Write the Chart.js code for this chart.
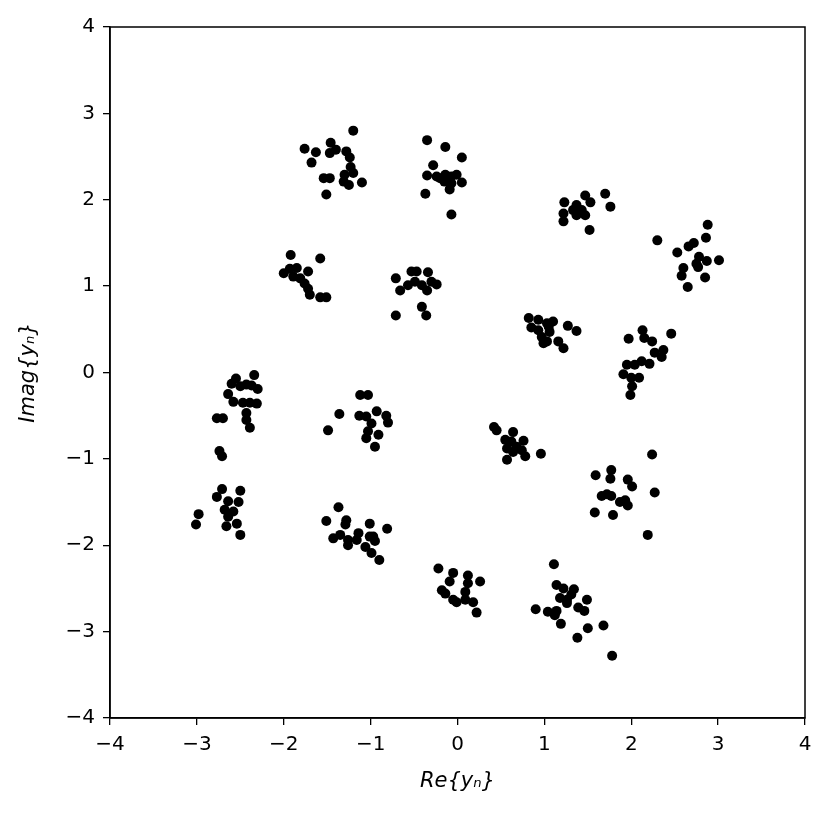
<!DOCTYPE html>
<html>
<head>
<meta charset="utf-8">
<script src="https://cdn.jsdelivr.net/npm/chart.js@4.4.1/dist/chart.umd.min.js"></script>
<style>
  html, body { margin: 0; padding: 0; background: #fff; }
</style>
</head>
<body>
<canvas id="scatter" width="830" height="816"></canvas>
<script>
// received symbols, real and imaginary parts (one line per cluster)
var reVals = [
  -1.20,-1.76,-1.63,-1.46,-1.47,-1.40,-1.28,-1.68,-1.24,-1.23,-1.30,-1.20,-1.31,-1.25,-1.10,-1.54,-1.47,-1.51,
  -0.35,-0.14,0.05,-0.28,-0.35,-0.24,-0.14,-0.07,-0.01,-0.15,-0.07,0.05,-0.09,-0.37,-0.07,-0.20,
  1.70,1.47,1.23,1.53,1.37,1.76,1.33,1.43,1.22,1.37,1.47,1.22,1.52,
  2.88,2.86,2.30,2.72,2.66,2.53,2.78,3.01,2.87,2.75,2.77,2.60,2.58,2.85,2.65,
  -1.92,-1.58,-2.00,-1.93,-1.85,-1.72,-1.89,-1.81,-1.76,-1.72,-1.70,-1.58,-1.51,
  -0.71,-0.53,-0.47,-0.34,-0.66,-0.57,-0.49,-0.41,-0.35,-0.24,-0.30,-0.71,-0.41,-0.36,
  0.82,0.93,1.03,0.85,0.93,0.97,0.99,1.10,1.05,1.06,1.27,1.37,1.03,1.16,1.22,
  2.13,1.97,2.46,2.15,2.24,2.37,2.27,2.35,1.95,2.04,2.12,2.21,1.91,2.00,2.09,2.01,1.99,
  -2.34,-2.55,-2.60,-2.50,-2.43,-2.37,-2.30,-2.64,-2.58,-2.47,-2.39,-2.31,-2.43,-2.43,-2.39,-2.77,-2.70,-2.74,-2.71,
  -1.36,-1.49,-1.12,-1.03,-1.13,-1.05,-1.05,-0.93,-0.82,-0.80,-0.99,-1.03,-0.91,-0.95,
  0.42,0.45,0.64,0.55,0.62,0.76,0.57,0.68,0.74,0.64,0.78,0.57,0.96,
  2.24,1.59,1.77,1.96,1.76,2.01,2.27,1.66,1.72,1.77,1.87,1.93,1.96,1.58,1.79,2.19,
  -2.71,-2.77,-2.50,-2.64,-2.52,-2.68,-2.58,-2.98,-3.01,-2.64,-2.54,-2.66,-2.50,
  -1.37,-1.51,-1.28,-1.29,-1.43,-1.35,-1.26,-1.26,-1.14,-1.16,-1.06,-1.01,-1.01,-0.81,-0.97,-0.95,-0.99,-0.90,
  -0.22,-0.05,0.12,0.26,-0.09,0.12,-0.18,-0.14,0.09,-0.05,-0.01,0.09,0.18,0.22,
  0.90,1.04,1.11,1.14,1.22,1.34,1.18,1.26,1.31,1.49,1.26,1.14,1.12,1.39,1.46,1.19,1.50,1.68,1.38,1.78
];
var imVals = [
  2.80,2.59,2.55,2.66,2.54,2.58,2.56,2.43,2.49,2.38,2.29,2.31,2.21,2.17,2.20,2.25,2.25,2.06,
  2.69,2.61,2.49,2.40,2.28,2.27,2.29,2.27,2.29,2.21,2.19,2.20,2.12,2.07,1.83,2.25,
  2.07,2.05,1.97,1.97,1.94,1.92,1.88,1.88,1.84,1.82,1.82,1.75,1.65,
  1.71,1.56,1.53,1.50,1.46,1.39,1.34,1.30,1.29,1.26,1.22,1.21,1.12,1.10,0.99,
  1.36,1.32,1.15,1.20,1.21,1.17,1.11,1.09,1.03,0.97,0.90,0.87,0.87,
  1.09,1.17,1.17,1.16,0.95,1.01,1.05,1.01,0.95,1.02,1.05,0.66,0.76,0.66,
  0.63,0.61,0.57,0.52,0.49,0.41,0.34,0.59,0.53,0.47,0.54,0.48,0.36,0.36,0.28,
  0.49,0.39,0.45,0.40,0.36,0.26,0.23,0.18,0.09,0.09,0.13,0.10,-0.02,-0.06,-0.06,-0.16,-0.26,
  -0.03,-0.07,-0.13,-0.16,-0.14,-0.15,-0.19,-0.25,-0.34,-0.35,-0.35,-0.36,-0.47,-0.55,-0.64,-0.53,-0.53,-0.91,-0.97,
  -0.48,-0.67,-0.26,-0.26,-0.50,-0.51,-0.76,-0.45,-0.50,-0.58,-0.59,-0.68,-0.72,-0.86,
  -0.63,-0.67,-0.69,-0.78,-0.80,-0.79,-0.88,-0.86,-0.90,-0.92,-0.97,-1.01,-0.94,
  -0.95,-1.19,-1.13,-1.24,-1.23,-1.32,-1.39,-1.43,-1.41,-1.43,-1.50,-1.48,-1.54,-1.62,-1.65,-1.88,
  -1.35,-1.44,-1.37,-1.49,-1.50,-1.59,-1.61,-1.64,-1.76,-1.67,-1.75,-1.78,-1.88,
  -1.56,-1.72,-1.71,-1.76,-1.92,-1.88,-1.94,-2.00,-1.86,-1.94,-2.02,-1.75,-1.90,-1.81,-1.90,-1.95,-2.09,-2.17,
  -2.27,-2.32,-2.35,-2.42,-2.42,-2.44,-2.52,-2.56,-2.54,-2.63,-2.66,-2.63,-2.66,-2.78,
  -2.74,-2.77,-2.22,-2.46,-2.50,-2.51,-2.61,-2.63,-2.57,-2.63,-2.67,-2.76,-2.81,-2.72,-2.76,-2.91,-2.96,-2.93,-3.07,-3.28
];
var tickVals = [-4, -3, -2, -1, 0, 1, 2, 3, 4];

var points = reVals.map(function(x, i) { return { x: x, y: imVals[i] }; });

function minusLabel(v) {
  return v < 0 ? '\u2212' + Math.abs(v) : String(v);
}

// frame on all four sides, like the matplotlib axes box
var frameBox = {
  id: 'frameBox',
  afterDraw: function(chart) {
    var a = chart.chartArea, c = chart.ctx;
    c.save();
    c.strokeStyle = '#000';
    c.lineWidth = 1.5;
    c.strokeRect(a.left, a.top, a.right - a.left, a.bottom - a.top);
    c.restore();
  }
};

var tickFont = { family: 'DejaVu Sans', size: 20 };
var titleFont = { family: 'DejaVu Sans', size: 21, style: 'italic' };

new Chart(document.getElementById('scatter'), {
  type: 'scatter',
  data: {
    datasets: [{
      data: points,
      backgroundColor: '#000',
      borderWidth: 0,
      pointRadius: 5,
      pointHoverRadius: 5
    }]
  },
  options: {
    responsive: false,
    maintainAspectRatio: false,
    animation: false,
    devicePixelRatio: 1,
    layout: { padding: { left: 0, top: 27, right: 25, bottom: 0 } },
    plugins: { legend: { display: false }, tooltip: { enabled: false } },
    scales: {
      x: {
        type: 'linear', min: -4, max: 4,
        afterBuildTicks: function(s) { s.ticks = tickVals.map(function(v) { return { value: v }; }); },
        afterFit: function(s) { s.height = 98; },
        grid: { drawOnChartArea: false, drawTicks: true, tickLength: 7, color: '#000', lineWidth: 1.3 },
        border: { display: true, color: '#000', width: 1.5 },
        ticks: { color: '#000', font: tickFont, padding: 8, maxRotation: 0, callback: minusLabel },
        title: { display: true, text: 'Re{y\u2099}', color: '#000', font: titleFont, padding: { top: 0, bottom: 22 } }
      },
      y: {
        type: 'linear', min: -4, max: 4,
        afterBuildTicks: function(s) { s.ticks = tickVals.map(function(v) { return { value: v }; }); },
        afterFit: function(s) { s.width = 110; },
        grid: { drawOnChartArea: false, drawTicks: true, tickLength: 7, color: '#000', lineWidth: 1.3 },
        border: { display: true, color: '#000', width: 1.5 },
        ticks: { color: '#000', font: tickFont, padding: 8, callback: minusLabel },
        title: { display: true, text: 'Imag{y\u2099}', color: '#000', font: titleFont, padding: { top: 16, bottom: 0 } }
      }
    }
  },
  plugins: [frameBox]
});
</script>
</body>
</html>
